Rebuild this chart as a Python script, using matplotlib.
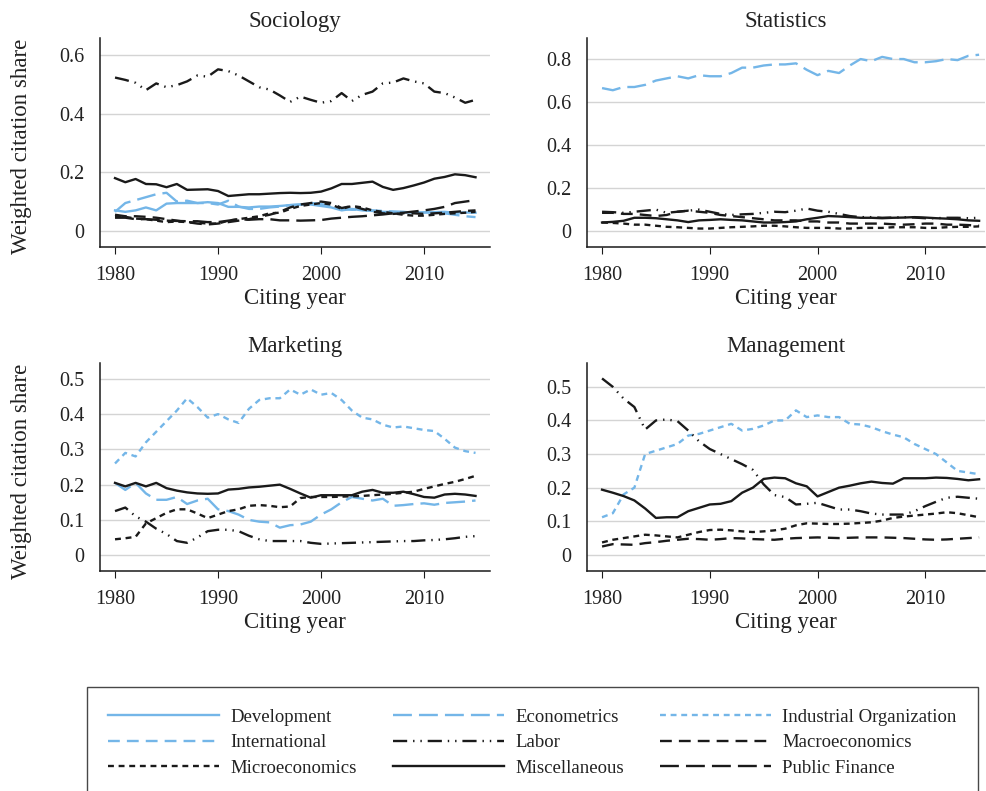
import matplotlib
matplotlib.use("Agg")
import matplotlib.pyplot as plt
from matplotlib.lines import Line2D
import numpy as np

plt.rcParams['font.family'] = ['Liberation Serif', 'DejaVu Serif']

years = np.arange(1980, 2016)

# Sociology
soc_labor = [0.523, 0.515, 0.505, 0.48, 0.503, 0.49, 0.497, 0.51, 0.53, 0.526, 0.551, 0.545, 0.53, 0.51, 0.49, 0.482, 0.462, 0.44,
             0.458, 0.447, 0.437, 0.443, 0.47, 0.443, 0.464, 0.475, 0.503, 0.506, 0.52, 0.51, 0.503, 0.475, 0.47, 0.455, 0.437, 0.447]
soc_misc = [0.18, 0.166, 0.177, 0.16, 0.159, 0.149, 0.16, 0.14, 0.141, 0.142, 0.136, 0.119, 0.122, 0.125, 0.125, 0.127, 0.129, 0.13,
            0.129, 0.13, 0.134, 0.145, 0.16, 0.16, 0.164, 0.168, 0.15, 0.14, 0.146, 0.155, 0.165, 0.178, 0.184, 0.193, 0.19, 0.183]
soc_dev = [0.07, 0.065, 0.07, 0.08, 0.07, 0.093, 0.095, 0.095, 0.095, 0.098, 0.095, 0.082, 0.082, 0.08, 0.083, 0.083, 0.085, 0.088,
           0.09, 0.09, 0.085, 0.08, 0.07, 0.075, 0.07, 0.068, 0.065, 0.065, 0.065, 0.062, 0.063, 0.064, 0.065, 0.062, 0.063, 0.062]
soc_econometrics = [0.065, 0.095, 0.105, 0.115, 0.125, 0.13, 0.10, 0.103, 0.095, 0.095, 0.09, 0.103, 0.083, 0.075, 0.075, 0.08, 0.083, 0.088,
                    0.09, 0.095, 0.092, 0.082, 0.075, 0.072, 0.073, 0.07, 0.068, 0.066, 0.064, 0.062, 0.063, 0.062, 0.06, 0.055, 0.05, 0.047]
soc_pubfin = [0.045, 0.045, 0.04, 0.04, 0.038, 0.035, 0.034, 0.033, 0.033, 0.03, 0.03, 0.035, 0.04, 0.038, 0.04, 0.04, 0.036, 0.036,
              0.035, 0.036, 0.037, 0.042, 0.045, 0.048, 0.05, 0.053, 0.056, 0.06, 0.062, 0.066, 0.07, 0.075, 0.082, 0.095, 0.1, 0.105]
soc_micro = [0.05, 0.048, 0.042, 0.04, 0.035, 0.03, 0.032, 0.03, 0.028, 0.025, 0.025, 0.035, 0.04, 0.045, 0.05, 0.06, 0.062, 0.075,
             0.085, 0.09, 0.095, 0.09, 0.075, 0.085, 0.08, 0.07, 0.065, 0.06, 0.055, 0.052, 0.052, 0.055, 0.058, 0.06, 0.062, 0.065]
soc_macro = [0.055, 0.05, 0.05, 0.048, 0.045, 0.04, 0.035, 0.03, 0.025, 0.022, 0.025, 0.03, 0.035, 0.04, 0.048, 0.055, 0.065, 0.08,
             0.09, 0.095, 0.1, 0.095, 0.078, 0.085, 0.075, 0.065, 0.06, 0.058, 0.06, 0.06, 0.058, 0.06, 0.062, 0.065, 0.068, 0.07]

# Statistics
stat_econometrics = [0.665, 0.655, 0.67, 0.67, 0.68, 0.70, 0.71, 0.72, 0.71, 0.725, 0.72, 0.72, 0.735, 0.76, 0.76, 0.77, 0.775, 0.775,
                     0.78, 0.75, 0.725, 0.745, 0.735, 0.77, 0.80, 0.79, 0.81, 0.80, 0.80, 0.785, 0.785, 0.79, 0.80, 0.795, 0.815, 0.82]
stat_labor = [0.09, 0.088, 0.085, 0.09, 0.095, 0.10, 0.085, 0.09, 0.095, 0.10, 0.09, 0.08, 0.075, 0.078, 0.08, 0.085, 0.09, 0.088,
              0.095, 0.105, 0.095, 0.09, 0.08, 0.07, 0.065, 0.065, 0.062, 0.063, 0.065, 0.063, 0.06, 0.06, 0.062, 0.062, 0.06, 0.062]
stat_macro = [0.085, 0.085, 0.08, 0.08, 0.075, 0.07, 0.075, 0.09, 0.095, 0.09, 0.085, 0.075, 0.07, 0.065, 0.06, 0.055, 0.05, 0.05,
              0.05, 0.045, 0.045, 0.04, 0.04, 0.035, 0.035, 0.035, 0.035, 0.032, 0.03, 0.032, 0.035, 0.035, 0.03, 0.03, 0.028, 0.025]
stat_misc = [0.04, 0.043, 0.048, 0.062, 0.062, 0.06, 0.055, 0.05, 0.042, 0.05, 0.052, 0.055, 0.052, 0.05, 0.045, 0.04, 0.04, 0.042,
             0.045, 0.055, 0.062, 0.07, 0.068, 0.065, 0.062, 0.062, 0.06, 0.062, 0.063, 0.065, 0.063, 0.06, 0.058, 0.055, 0.05, 0.048]
stat_micro = [0.04, 0.038, 0.035, 0.03, 0.03, 0.025, 0.02, 0.018, 0.015, 0.012, 0.012, 0.015, 0.018, 0.02, 0.022, 0.025, 0.025, 0.022,
              0.018, 0.015, 0.015, 0.015, 0.012, 0.012, 0.015, 0.015, 0.015, 0.018, 0.018, 0.018, 0.015, 0.015, 0.018, 0.02, 0.02, 0.022]

# Marketing
mkt_io = [0.26, 0.29, 0.28, 0.32, 0.35, 0.38, 0.41, 0.445, 0.42, 0.39, 0.40, 0.385, 0.375, 0.415, 0.44, 0.445, 0.445, 0.47,
          0.455, 0.47, 0.455, 0.46, 0.44, 0.41, 0.39, 0.385, 0.37, 0.362, 0.365, 0.36, 0.355, 0.352, 0.33, 0.305, 0.295, 0.29]
mkt_econometrics = [0.205, 0.185, 0.205, 0.175, 0.157, 0.157, 0.165, 0.145, 0.155, 0.16, 0.13, 0.125, 0.115, 0.10, 0.095, 0.093, 0.078, 0.085,
                    0.087, 0.095, 0.115, 0.13, 0.15, 0.165, 0.16, 0.155, 0.16, 0.14, 0.142, 0.145, 0.147, 0.143, 0.148, 0.15, 0.152, 0.155]
mkt_misc = [0.205, 0.195, 0.205, 0.195, 0.205, 0.19, 0.183, 0.178, 0.175, 0.174, 0.175, 0.186, 0.188, 0.192, 0.194, 0.197, 0.2, 0.188,
            0.175, 0.163, 0.17, 0.17, 0.17, 0.17, 0.18, 0.185, 0.177, 0.177, 0.18, 0.173, 0.165, 0.163, 0.172, 0.174, 0.172, 0.168]
mkt_micro = [0.045, 0.048, 0.052, 0.09, 0.105, 0.12, 0.13, 0.13, 0.118, 0.105, 0.115, 0.125, 0.13, 0.14, 0.142, 0.14, 0.136, 0.138,
             0.162, 0.165, 0.165, 0.165, 0.166, 0.167, 0.168, 0.17, 0.172, 0.174, 0.177, 0.18, 0.188, 0.195, 0.202, 0.208, 0.216, 0.225]
mkt_labor = [0.125, 0.135, 0.11, 0.095, 0.075, 0.06, 0.04, 0.035, 0.05, 0.068, 0.072, 0.072, 0.068, 0.055, 0.045, 0.04, 0.04, 0.04,
             0.04, 0.035, 0.032, 0.033, 0.034, 0.035, 0.036, 0.037, 0.038, 0.039, 0.04, 0.04, 0.042, 0.043, 0.045, 0.048, 0.052, 0.054]

# Management
mgt_io = [0.112, 0.124, 0.18, 0.2, 0.3, 0.31, 0.32, 0.33, 0.355, 0.36, 0.37, 0.38, 0.39, 0.37, 0.375, 0.385, 0.40, 0.40,
          0.43, 0.41, 0.415, 0.41, 0.41, 0.39, 0.388, 0.38, 0.368, 0.358, 0.35, 0.33, 0.315, 0.30, 0.275, 0.25, 0.245, 0.24]
mgt_labor = [0.525, 0.50, 0.465, 0.44, 0.373, 0.40, 0.403, 0.398, 0.37, 0.338, 0.315, 0.30, 0.285, 0.27, 0.253, 0.21, 0.178, 0.172,
             0.15, 0.152, 0.155, 0.145, 0.135, 0.135, 0.13, 0.123, 0.12, 0.12, 0.12, 0.13, 0.145, 0.158, 0.17, 0.173, 0.17, 0.167]
mgt_misc = [0.194, 0.185, 0.175, 0.162, 0.138, 0.11, 0.112, 0.112, 0.13, 0.14, 0.15, 0.152, 0.16, 0.185, 0.2, 0.226, 0.23, 0.228,
            0.213, 0.204, 0.174, 0.187, 0.2, 0.206, 0.213, 0.218, 0.214, 0.212, 0.228, 0.228, 0.228, 0.23, 0.229, 0.226, 0.222, 0.225]
mgt_micro = [0.037, 0.045, 0.05, 0.055, 0.06, 0.058, 0.055, 0.052, 0.06, 0.068, 0.074, 0.075, 0.073, 0.07, 0.068, 0.07, 0.073, 0.078,
             0.088, 0.094, 0.093, 0.092, 0.092, 0.093, 0.095, 0.097, 0.102, 0.11, 0.114, 0.117, 0.12, 0.123, 0.127, 0.124, 0.118, 0.112]
mgt_macro = [0.025, 0.032, 0.031, 0.03, 0.035, 0.038, 0.042, 0.045, 0.048, 0.047, 0.045, 0.047, 0.05, 0.049, 0.047, 0.046, 0.045, 0.048,
             0.05, 0.051, 0.052, 0.051, 0.05, 0.051, 0.052, 0.052, 0.052, 0.051, 0.05, 0.048, 0.046, 0.045, 0.046, 0.048, 0.05, 0.052]

fields = ["Development", "Econometrics", "Industrial Organization",
          "International", "Labor", "Macroeconomics",
          "Microeconomics", "Miscellaneous", "Public Finance"]

BLUE = "#74b6e8"
BLACK = "#1a1a1a"
TXT = "#222222"
styles = {
    "Development": (BLUE, "-"),
    "Econometrics": (BLUE, (0, (8, 3))),
    "Industrial Organization": (BLUE, (0, (2.5, 2))),
    "International": (BLUE, (0, (5, 3))),
    "Labor": (BLACK, (0, (6, 2.5, 0.6, 2.5, 0.6, 2.5))),
    "Macroeconomics": (BLACK, (0, (5, 3))),
    "Microeconomics": (BLACK, (0, (2.5, 2))),
    "Miscellaneous": (BLACK, "-"),
    "Public Finance": (BLACK, (0, (8, 3))),
}

panels = [
    ("Sociology", [0.1013, 0.6877, 0.3952, 0.2643], (1978.54, 2016.41), (-0.055, 0.658), [0, 0.2, 0.4, 0.6],
     {"Labor": soc_labor, "Miscellaneous": soc_misc, "Development": soc_dev, "Econometrics": soc_econometrics,
      "Public Finance": soc_pubfin, "Microeconomics": soc_micro, "Macroeconomics": soc_macro}),
    ("Statistics", [0.5947, 0.6877, 0.4033, 0.2643], (1978.6, 2015.55), (-0.074, 0.898), [0, 0.2, 0.4, 0.6, 0.8],
     {"Econometrics": stat_econometrics, "Labor": stat_labor, "Macroeconomics": stat_macro,
      "Miscellaneous": stat_misc, "Microeconomics": stat_micro}),
    ("Marketing", [0.1013, 0.2781, 0.3952, 0.263], (1978.54, 2016.41), (-0.045, 0.545), [0, 0.1, 0.2, 0.3, 0.4, 0.5],
     {"Industrial Organization": mkt_io, "Econometrics": mkt_econometrics, "Miscellaneous": mkt_misc,
      "Microeconomics": mkt_micro, "Labor": mkt_labor}),
    ("Management", [0.5947, 0.2781, 0.4033, 0.263], (1978.6, 2015.55), (-0.048, 0.571), [0, 0.1, 0.2, 0.3, 0.4, 0.5],
     {"Industrial Organization": mgt_io, "Labor": mgt_labor, "Miscellaneous": mgt_misc,
      "Microeconomics": mgt_micro, "Macroeconomics": mgt_macro}),
]

fig = plt.figure(figsize=(9.87, 7.91), dpi=100)

for i, (title, rect, xlim, ylim, yticks, series) in enumerate(panels):
    ax = fig.add_axes(rect)
    for name in fields:
        if name in series:
            col, ls = styles[name]
            ax.plot(years, series[name], color=col, linestyle=ls, lw=1.7)
    ax.set_xlim(*xlim)
    ax.set_ylim(*ylim)
    ax.set_xticks([1980, 1990, 2000, 2010])
    ax.set_yticks(yticks)
    ax.set_yticklabels(["0" if t == 0 else f"{t:g}" for t in yticks])
    ax.yaxis.grid(True, color="#d4d4d4", lw=1)
    ax.set_axisbelow(True)
    for s in ["top", "right"]:
        ax.spines[s].set_visible(False)
    for s in ["left", "bottom"]:
        ax.spines[s].set_color(BLACK)
        ax.spines[s].set_linewidth(1.1)
    ax.tick_params(axis="x", labelsize=14.5, length=5, pad=9, color=BLACK, labelcolor=TXT)
    ax.tick_params(axis="y", labelsize=14.5, length=0, pad=11, color=BLACK, labelcolor=TXT)
    ax.set_title(title, fontsize=16.5, pad=8, color=TXT)
    ax.set_xlabel("Citing year", fontsize=16.5, labelpad=2, color=TXT)
    if i % 2 == 0:
        ax.set_ylabel("Weighted citation share", fontsize=16.5, color=TXT)
        ax.yaxis.set_label_coords(-0.175, 0.48)

handles = {}
for name in fields:
    col, ls = styles[name]
    handles[name] = Line2D([], [], color=col, linestyle=ls, lw=1.7)

# legend fills column-wise, reference reads row-wise
order = [0, 3, 6, 1, 4, 7, 2, 5, 8]
leg = fig.legend([handles[fields[k]] for k in order], [fields[k] for k in order],
                 loc="upper left", bbox_to_anchor=(0.088, 1 - 687 / 791),
                 ncol=3, fontsize=13.5, handlelength=5.9, handletextpad=0.6,
                 columnspacing=1.95, labelspacing=0.45, borderpad=1.15,
                 fancybox=False, borderaxespad=0)
leg.get_frame().set_edgecolor(BLACK)
leg.get_frame().set_linewidth(1.0)
for t in leg.get_texts():
    t.set_color(TXT)

fig.savefig("out.png", dpi=100)
